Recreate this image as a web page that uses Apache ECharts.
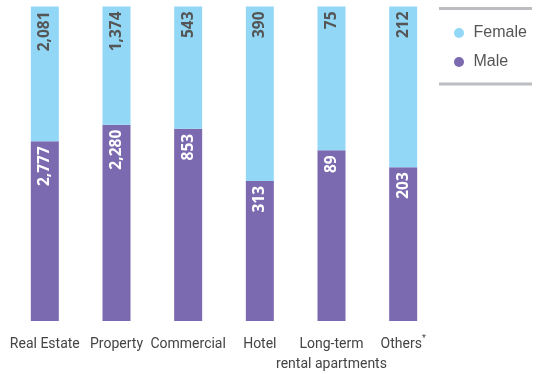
<!DOCTYPE html>
<html>
<head>
<meta charset="utf-8">
<script src="https://cdn.jsdelivr.net/npm/echarts@6/dist/echarts.min.js"></script>
<style>
  html, body { margin: 0; padding: 0; background: #fff; }
  #chart { width: 536px; height: 374px; }
</style>
</head>
<body>
<div id="chart"></div>
<script>
// Headcount by business segment, split by gender
const categories = ['Real Estate', 'Property', 'Commercial', 'Hotel', 'Long-term\nrental apartments', 'Others*'];
const maleValues = [2777, 2280, 853, 313, 89, 203];
const femaleValues = [2081, 1374, 543, 390, 75, 212];

// Each bar is shown as a share of its segment total (100% stacked)
const totals = maleValues.map((m, i) => m + femaleValues[i]);
const maleShare = maleValues.map((m, i) => ({ value: m / totals[i] * 100, raw: m }));
const femaleShare = femaleValues.map((f, i) => ({ value: f / totals[i] * 100, raw: f }));

const fmt = n => n.toLocaleString('en-US');

const chart = echarts.init(document.getElementById('chart'), null, { renderer: 'canvas' });

const labelBase = {
  show: true,
  position: 'insideTop',
  rotate: 90,
  align: 'right',
  verticalAlign: 'middle',
  distance: 5,
  fontFamily: 'Open Sans',
  fontWeight: 'bold',
  fontSize: 15.5,
  formatter: p => fmt(p.data.raw)
};

chart.setOption({
  animation: false,
  grid: { left: 9, top: 6.5, width: 430, height: 316, containLabel: false },
  legend: {
    orient: 'vertical',
    left: 449,
    top: 20,
    icon: 'circle',
    itemWidth: 19,
    itemHeight: 10,
    itemGap: 13,
    data: ['Female', 'Male'],
    textStyle: { fontFamily: 'Liberation Sans', fontSize: 16, color: '#555' }
  },
  xAxis: {
    type: 'category',
    data: categories,
    axisLine: { show: false },
    axisTick: { show: false },
    axisLabel: {
      interval: 0,
      margin: 13,
      fontFamily: 'Roboto',
      fontSize: 14,
      lineHeight: 20,
      color: '#444',
      formatter: v => v === 'Others*' ? 'Others{s|*}' : v,
      rich: {
        s: { fontFamily: 'Roboto', fontSize: 9, color: '#444', verticalAlign: 'top', padding: [0, 0, 3, 0] }
      }
    }
  },
  yAxis: { type: 'value', min: 0, max: 100, show: false },
  series: [
    {
      name: 'Male',
      type: 'bar',
      stack: 'total',
      barWidth: 28,
      itemStyle: { color: '#7b6ab0' },
      label: Object.assign({}, labelBase, { color: '#ffffff' }),
      data: maleShare
    },
    {
      name: 'Female',
      type: 'bar',
      stack: 'total',
      barWidth: 28,
      itemStyle: { color: '#92d8f6' },
      label: Object.assign({}, labelBase, { color: '#555555' }),
      data: femaleShare
    }
  ],
  graphic: [
    { type: 'rect', shape: { x: 439, y: 7, width: 93, height: 3 }, style: { fill: '#bcbdc0' } },
    { type: 'rect', shape: { x: 439, y: 82.5, width: 93, height: 3 }, style: { fill: '#bcbdc0' } }
  ]
});
</script>
</body>
</html>
